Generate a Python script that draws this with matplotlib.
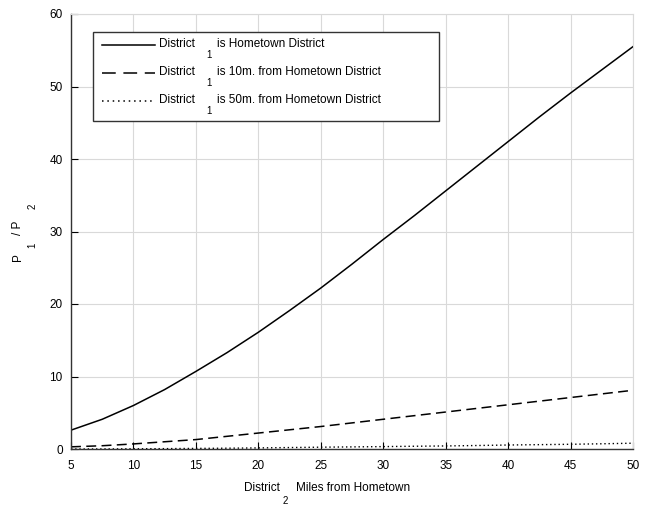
import matplotlib
matplotlib.use("Agg")
import matplotlib.pyplot as plt
from matplotlib.patches import Rectangle
from matplotlib.lines import Line2D

plt.rcParams['font.family'] = ['Liberation Sans', 'DejaVu Sans']

miles = [5, 7.5, 10, 12.5, 15, 17.5, 20, 22.5, 25, 27.5, 30, 32.5, 35, 37.5, 40, 42.5, 45, 47.5, 50]
home = [2.6, 4.1, 6.0, 8.2, 10.7, 13.3, 16.1, 19.1, 22.2, 25.5, 28.9, 32.2, 35.6, 39.0, 42.4, 45.8, 49.1, 52.3, 55.5]
ten = [0.3, 0.45, 0.7, 1.0, 1.3, 1.75, 2.2, 2.65, 3.1, 3.6, 4.1, 4.6, 5.1, 5.6, 6.1, 6.6, 7.1, 7.6, 8.1]
fifty = [0.0, 0.01, 0.03, 0.05, 0.08, 0.11, 0.15, 0.2, 0.25, 0.29, 0.33, 0.38, 0.42, 0.48, 0.55, 0.6, 0.65, 0.72, 0.8]
xticks = [5, 10, 15, 20, 25, 30, 35, 40, 45, 50]
yticks = [0, 10, 20, 30, 40, 50, 60]
legend_labels = ["is Hometown District", "is 10m. from Hometown District", "is 50m. from Hometown District"]

W, H = 653, 508
fig = plt.figure(figsize=(W/100, H/100), dpi=100)
ax = fig.add_axes([71/W, 1-449/H, (633-71)/W, (449-14)/H])

ax.plot(miles, home, color='black', lw=1.1, ls='-')
ax.plot(miles, ten, color='black', lw=1.1, ls=(0, (6.5, 3.5)))
ax.plot(miles, fifty, color='black', lw=1.0, ls=(0, (1, 2)))

ax.set_xlim(5, 50)
ax.set_ylim(0, 60)
ax.set_xticks(xticks)
ax.set_yticks(yticks)
ax.grid(True, color='#d9d9d9', lw=0.8)
ax.set_axisbelow(True)
ax.tick_params(direction='in', length=5, width=0.8, labelsize=8.5, colors='black', pad=6)
ax.tick_params(axis='x', pad=8)
for s in ['top', 'right']:
    ax.spines[s].set_color('#d9d9d9')
    ax.spines[s].set_linewidth(0.8)
for s in ['left', 'bottom']:
    ax.spines[s].set_color('#333333')
    ax.spines[s].set_linewidth(1.0)

def px(x, y):
    return (x / W, 1 - y / H)

fs = 8.5
# x label
fig.text(*px(262, 488), "District", ha='center', va='center', fontsize=fs)
fig.text(*px(285, 501), "2", ha='center', va='center', fontsize=7)
fig.text(*px(296, 488), "Miles from Hometown", ha='left', va='center', fontsize=fs)

# y label pieces (rotated)
fig.text(*px(18, 257), "P", ha='center', va='center', rotation=90, fontsize=fs)
fig.text(*px(32, 245), "1", ha='center', va='center', rotation=90, fontsize=7)
fig.text(*px(18, 228), "/ P", ha='center', va='center', rotation=90, fontsize=fs)
fig.text(*px(33, 206), "2", ha='center', va='center', rotation=90, fontsize=7)

# legend box
x0, y0 = px(93, 121)
x1, y1 = px(439, 32)
fig.add_artist(Rectangle((x0, y0), x1 - x0, y1 - y0, transform=fig.transFigure,
                         facecolor='white', edgecolor='#333333', lw=1.0, zorder=5))
styles = ['-', (0, (9, 5)), (0, (1, 2.5))]
rows = [44, 72, 100]
for lab, st, yy in zip(legend_labels, styles, rows):
    a, b = px(102, yy + 1)
    c, d = px(155, yy + 1)
    fig.add_artist(Line2D([a, c], [b, d], transform=fig.transFigure, color='black',
                          lw=1.1, ls=st, zorder=6))
    fig.text(*px(159, yy), "District", ha='left', va='center', fontsize=fs, zorder=7)
    fig.text(*px(209, yy + 11), "1", ha='center', va='center', fontsize=7, zorder=7)
    fig.text(*px(217, yy), lab, ha='left', va='center', fontsize=fs, zorder=7)

fig.savefig("out.png", dpi=100)
